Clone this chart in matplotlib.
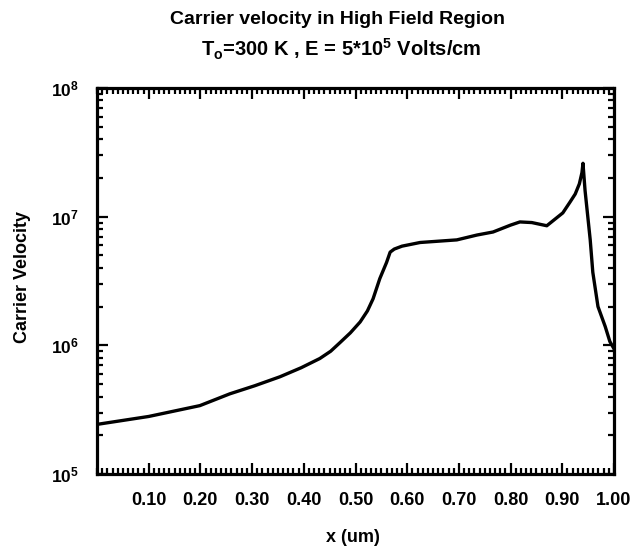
import math
import matplotlib
matplotlib.use("Agg")
import matplotlib.pyplot as plt
from matplotlib.ticker import FixedLocator, MultipleLocator, LogLocator, FuncFormatter, NullFormatter

plt.rcParams['font.family'] = ['Liberation Sans', 'DejaVu Sans']
plt.rcParams['font.weight'] = 'bold'
plt.rcParams['mathtext.fontset'] = 'custom'
plt.rcParams['mathtext.rm'] = 'Liberation Sans:bold'
plt.rcParams['mathtext.it'] = 'Liberation Sans:bold'
plt.rcParams['mathtext.bf'] = 'Liberation Sans:bold'
plt.rcParams['mathtext.default'] = 'bf'

# carrier velocity along the high field region
x_um = [0.0, 0.10, 0.199, 0.257, 0.305, 0.354, 0.395, 0.431, 0.452, 0.470,
        0.490, 0.509, 0.523, 0.534, 0.547, 0.560, 0.567, 0.575, 0.590,
        0.625, 0.696, 0.735, 0.766, 0.800, 0.818, 0.841, 0.870, 0.901,
        0.915, 0.925, 0.933, 0.938, 0.940, 0.944, 0.954, 0.959, 0.969,
        0.983, 0.992, 1.0]
velocity = [2.43e5, 2.8e5, 3.4e5, 4.2e5, 4.85e5, 5.7e5, 6.7e5, 7.9e5, 9.0e5,
            1.05e6, 1.25e6, 1.52e6, 1.85e6, 2.3e6, 3.3e6, 4.4e6, 5.3e6,
            5.6e6, 5.9e6, 6.3e6, 6.6e6, 7.2e6, 7.6e6, 8.6e6, 9.1e6, 9.0e6,
            8.5e6, 1.07e7, 1.3e7, 1.5e7, 1.8e7, 2.2e7, 2.6e7, 1.6e7, 6.6e6,
            3.7e6, 2.0e6, 1.4e6, 1.07e6, 9.4e5]

x_ticks = [0.10, 0.20, 0.30, 0.40, 0.50, 0.60, 0.70, 0.80, 0.90, 1.00]

fig = plt.figure(figsize=(6.33, 5.51), dpi=100)
ax = fig.add_axes([97 / 633, 1 - 474 / 551, (614 - 97) / 633, (474 - 88) / 551])

ax.plot(x_um, velocity, color='black', lw=2.4, solid_joinstyle='round')
ax.set_yscale('log')
ax.set_xlim(0, 1.0)
ax.set_ylim(1e5, 1e8)

ax.xaxis.set_major_locator(FixedLocator(x_ticks))
ax.xaxis.set_major_formatter(FuncFormatter(lambda v, p: f"{v:.2f}"))
ax.xaxis.set_minor_locator(MultipleLocator(0.01))
ax.yaxis.set_major_locator(LogLocator(base=10, numticks=10))
ax.yaxis.set_minor_locator(LogLocator(base=10, subs=range(2, 10), numticks=10))
ax.yaxis.set_minor_formatter(NullFormatter())
ax.yaxis.set_major_formatter(FuncFormatter(lambda v, p: r"$10^{%d}$" % round(math.log10(v))))

ax.tick_params(which='both', direction='in', top=True, right=True, width=1.6)
ax.tick_params(which='major', length=8)
ax.tick_params(which='minor', length=4)
ax.tick_params(axis='x', pad=13, labelsize=13)
ax.tick_params(axis='y', pad=13, labelsize=12.5)
for s in ax.spines.values():
    s.set_linewidth(2.3)

fig.text(353 / 633, 1 - 538 / 551, "x (um)", ha='center', va='center',
         fontsize=13, fontweight='bold')
fig.text(23 / 633, 1 - 277 / 551, "Carrier Velocity", ha='center', va='center',
         rotation=90, fontsize=13, fontweight='bold')

fig.text(337 / 633, 1 - 20 / 551, "Carrier velocity in High Field Region",
         ha='center', va='center', fontsize=14, fontweight='bold')
fig.text(341 / 633, 1 - 49 / 551, r"T$_{o}$=300 K , E = 5*10$^{5}$ Volts/cm",
         ha='center', va='center', fontsize=14.5, fontweight='bold')

fig.savefig("out.png", dpi=100)
